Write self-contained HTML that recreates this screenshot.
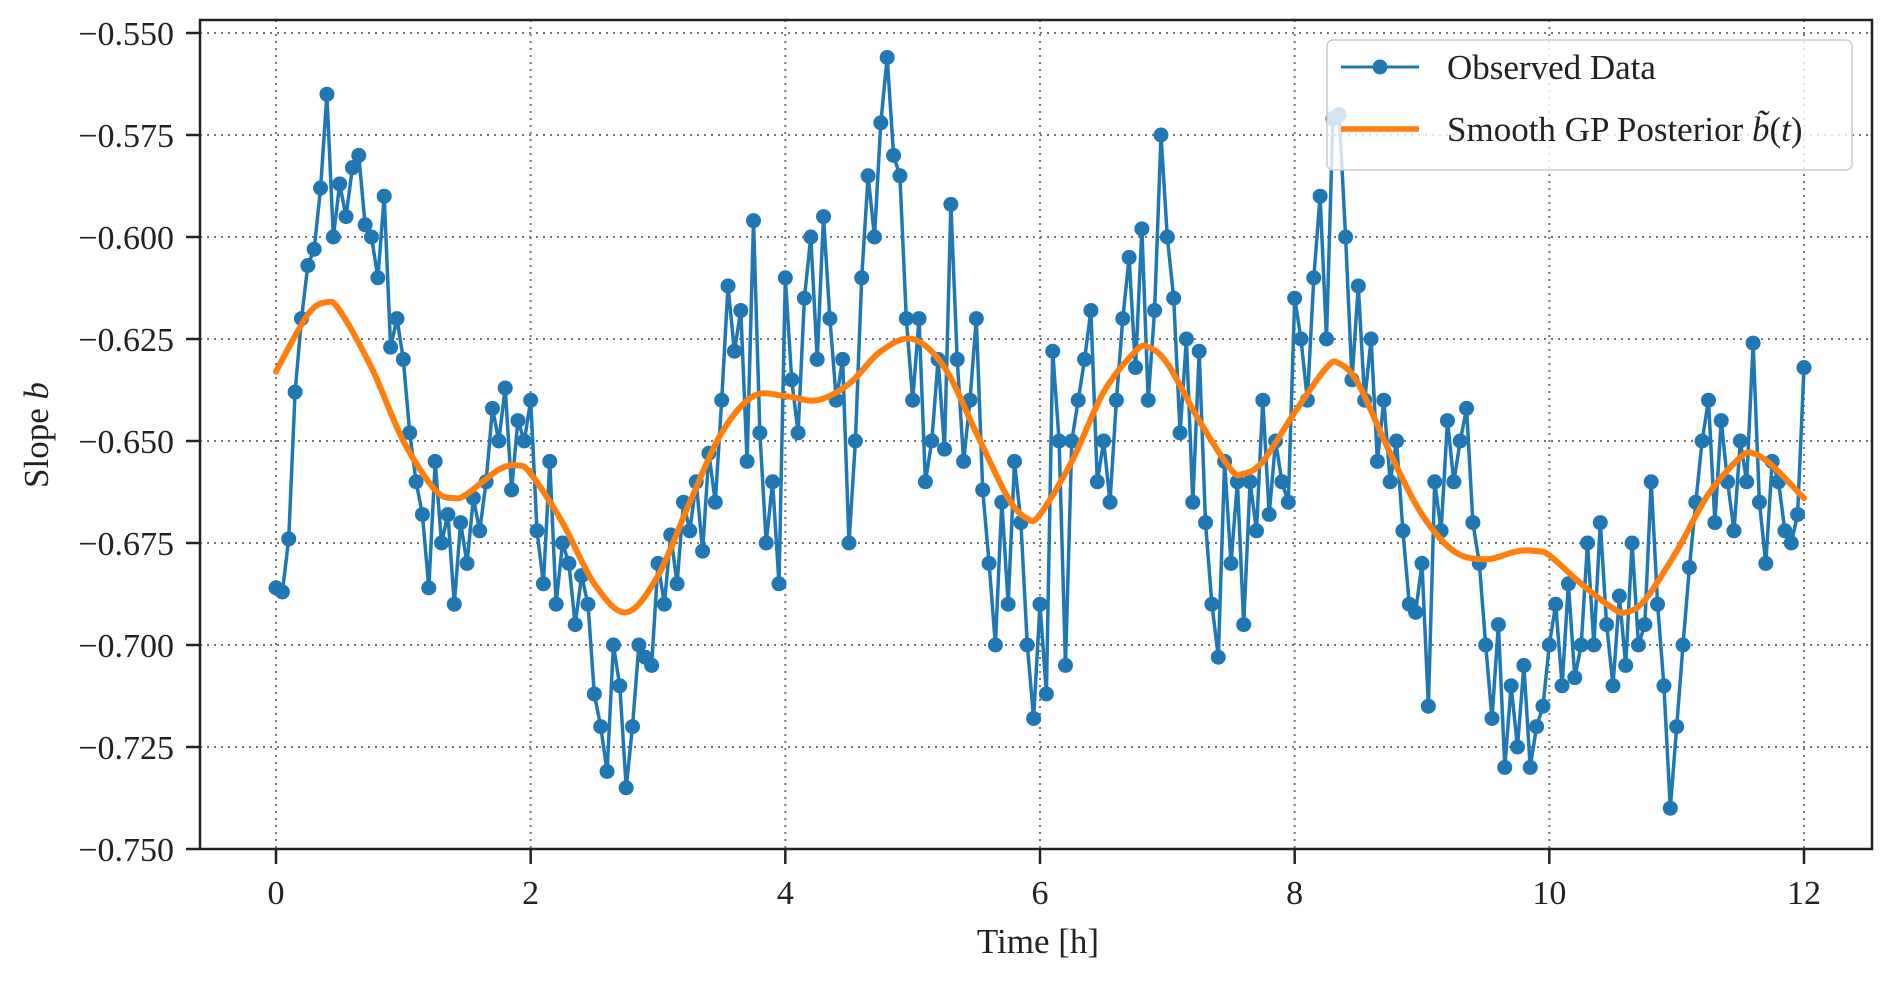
<!DOCTYPE html>
<html><head><meta charset="utf-8"><style>
html,body{margin:0;padding:0;background:#fff}
svg text{font-family:"Liberation Serif",serif;fill:#222}
</style></head><body>
<svg id="chart" width="1892" height="976" xmlns="http://www.w3.org/2000/svg">
<g id="grid"></g>
<g id="series"></g>
<rect x="200" y="20" width="1672" height="829" fill="none" stroke="#222" stroke-width="2.5"/>
<g id="axes"></g>
<text x="1038" y="953" font-size="35" text-anchor="middle">Time [h]</text>
<text transform="translate(48,435) rotate(-90)" font-size="35" text-anchor="middle">Slope <tspan font-style="italic">b</tspan></text>
<g>
<rect x="1327" y="40" width="525" height="130" rx="6" fill="#fff" fill-opacity="0.8" stroke="#ccc" stroke-width="1.5"/>
<g>
<line x1="1341" y1="67" x2="1419" y2="67" stroke="#1f77b4" stroke-width="3"/>
<circle cx="1380" cy="67" r="7.5" fill="#1f77b4"/>
<text x="1447" y="79" font-size="35">Observed Data</text></g>
<g>
<line x1="1341" y1="129" x2="1419" y2="129" stroke="#ff7f0e" stroke-width="5.5"/>
<text x="1447" y="141" font-size="35">Smooth GP Posterior <tspan font-style="italic">b̃</tspan>(<tspan font-style="italic">t</tspan>)</text></g>
</g>
</svg>
<script>
const xTicks=[0,2,4,6,8,10,12];
const yTicks=[-0.550,-0.575,-0.600,-0.625,-0.650,-0.675,-0.700,-0.725,-0.750];
const obsStep=0.05;
const observed=[
-0.686,-0.687,-0.674,-0.638,-0.620,-0.607,-0.603,-0.588,-0.565,-0.600,-0.587,-0.595,-0.583,-0.580,-0.597,-0.600,-0.610,-0.590,-0.627,-0.620,
-0.630,-0.648,-0.660,-0.668,-0.686,-0.655,-0.675,-0.668,-0.690,-0.670,-0.680,-0.664,-0.672,-0.660,-0.642,-0.650,-0.637,-0.662,-0.645,-0.650,
-0.640,-0.672,-0.685,-0.655,-0.690,-0.675,-0.680,-0.695,-0.683,-0.690,-0.712,-0.720,-0.731,-0.700,-0.710,-0.735,-0.720,-0.700,-0.703,-0.705,
-0.680,-0.690,-0.673,-0.685,-0.665,-0.672,-0.660,-0.677,-0.653,-0.665,-0.640,-0.612,-0.628,-0.618,-0.655,-0.596,-0.648,-0.675,-0.660,-0.685,
-0.610,-0.635,-0.648,-0.615,-0.600,-0.630,-0.595,-0.620,-0.640,-0.630,-0.675,-0.650,-0.610,-0.585,-0.600,-0.572,-0.556,-0.580,-0.585,-0.620,
-0.640,-0.620,-0.660,-0.650,-0.630,-0.652,-0.592,-0.630,-0.655,-0.640,-0.620,-0.662,-0.680,-0.700,-0.665,-0.690,-0.655,-0.670,-0.700,-0.718,
-0.690,-0.712,-0.628,-0.650,-0.705,-0.650,-0.640,-0.630,-0.618,-0.660,-0.650,-0.665,-0.640,-0.620,-0.605,-0.632,-0.598,-0.640,-0.618,-0.575,
-0.600,-0.615,-0.648,-0.625,-0.665,-0.628,-0.670,-0.690,-0.703,-0.655,-0.680,-0.660,-0.695,-0.660,-0.672,-0.640,-0.668,-0.650,-0.660,-0.665,
-0.615,-0.625,-0.640,-0.610,-0.590,-0.625,-0.571,-0.570,-0.600,-0.635,-0.612,-0.640,-0.625,-0.655,-0.640,-0.660,-0.650,-0.672,-0.690,-0.692,
-0.680,-0.715,-0.660,-0.672,-0.645,-0.660,-0.650,-0.642,-0.670,-0.680,-0.700,-0.718,-0.695,-0.730,-0.710,-0.725,-0.705,-0.730,-0.720,-0.715,
-0.700,-0.690,-0.710,-0.685,-0.708,-0.700,-0.675,-0.700,-0.670,-0.695,-0.710,-0.688,-0.705,-0.675,-0.700,-0.695,-0.660,-0.690,-0.710,-0.740,
-0.720,-0.700,-0.681,-0.665,-0.650,-0.640,-0.670,-0.645,-0.660,-0.672,-0.650,-0.660,-0.626,-0.665,-0.680,-0.655,-0.660,-0.672,-0.675,-0.668,
-0.632];
const gpT=[0,0.25,0.4,0.5,0.75,1.0,1.25,1.4,1.5,1.75,1.9,2.0,2.25,2.5,2.75,3.0,3.25,3.5,3.75,4.0,4.25,4.5,4.75,5.0,5.25,5.5,5.75,5.9,6.0,6.25,6.5,6.75,6.85,7.0,7.25,7.5,7.6,7.75,8.0,8.25,8.35,8.5,8.75,9.0,9.25,9.5,9.75,9.9,10.0,10.25,10.5,10.6,10.75,11.0,11.25,11.5,11.6,11.75,12.0];
const gpV=[-0.633,-0.619,-0.616,-0.618,-0.632,-0.650,-0.662,-0.664,-0.663,-0.657,-0.656,-0.658,-0.670,-0.685,-0.692,-0.683,-0.665,-0.648,-0.639,-0.639,-0.640,-0.636,-0.628,-0.625,-0.632,-0.648,-0.664,-0.669,-0.668,-0.655,-0.638,-0.628,-0.627,-0.631,-0.645,-0.657,-0.658,-0.655,-0.643,-0.632,-0.631,-0.636,-0.653,-0.668,-0.677,-0.679,-0.677,-0.677,-0.678,-0.685,-0.691,-0.692,-0.689,-0.677,-0.663,-0.654,-0.653,-0.656,-0.664];

const NS='http://www.w3.org/2000/svg';
const X=t=>276+t*(1804-276)/12;
const Y=v=>33+(v-(-0.550))/(-0.025)*102;
function mk(tag,attrs,parent){const e=document.createElementNS(NS,tag);for(const k in attrs)e.setAttribute(k,attrs[k]);parent.appendChild(e);return e;}
const grid=document.getElementById('grid'),axes=document.getElementById('axes'),series=document.getElementById('series');
xTicks.forEach(t=>{
 const g=mk('line',{x1:X(t),x2:X(t),y1:20,y2:849,stroke:'#777','stroke-width':2,'stroke-dasharray':'2 5'},grid);
 
 
 const tk=mk('line',{x1:X(t),x2:X(t),y1:849,y2:864,stroke:'#222','stroke-width':2.5},axes);
 
 
 const lb=mk('text',{x:X(t),y:904,'font-size':34,'text-anchor':'middle'},axes);lb.textContent=String(t);
 
 
});
yTicks.forEach(v=>{
 const g=mk('line',{x1:200,x2:1872,y1:Y(v),y2:Y(v),stroke:'#777','stroke-width':2,'stroke-dasharray':'2 5'},grid);
 
 
 const tk=mk('line',{x1:186,x2:200,y1:Y(v),y2:Y(v),stroke:'#222','stroke-width':2.5},axes);
 
 
 const lb=mk('text',{x:174,y:Y(v)+12,'font-size':34,'text-anchor':'end'},axes);lb.textContent='\u2212'+Math.abs(v).toFixed(3);
 
 
});
const pts=observed.map((v,i)=>X(i*obsStep).toFixed(1)+','+Y(v).toFixed(1)).join(' ');
const pl=mk('polyline',{points:pts,fill:'none',stroke:'#1f77b4','stroke-width':3.5,'stroke-linejoin':'round'},series);


observed.forEach((v,i)=>{
 const c=mk('circle',{cx:X(i*obsStep),cy:Y(v),r:7.5,fill:'#1f77b4'},series);
 
 
});
let d='';
for(let i=0;i<gpT.length;i++){
 const x=X(gpT[i]),y=Y(gpV[i]);
 if(i===0){d+='M'+x+','+y;continue;}
 const x0=X(gpT[i-1]),y0=Y(gpV[i-1]);
 const xm=X(gpT[Math.max(i-2,0)]),ym=Y(gpV[Math.max(i-2,0)]);
 const xp=X(gpT[Math.min(i+1,gpT.length-1)]),yp=Y(gpV[Math.min(i+1,gpT.length-1)]);
 const c1x=x0+(x-xm)/6,c1y=y0+(y-ym)/6,c2x=x-(xp-x0)/6,c2y=y-(yp-y0)/6;
 d+=` C${c1x},${c1y} ${c2x},${c2y} ${x},${y}`;
}
const gp=mk('path',{d:d,fill:'none',stroke:'#ff7f0e','stroke-width':6,'stroke-linecap':'round'},series);


</script>
</body></html>
